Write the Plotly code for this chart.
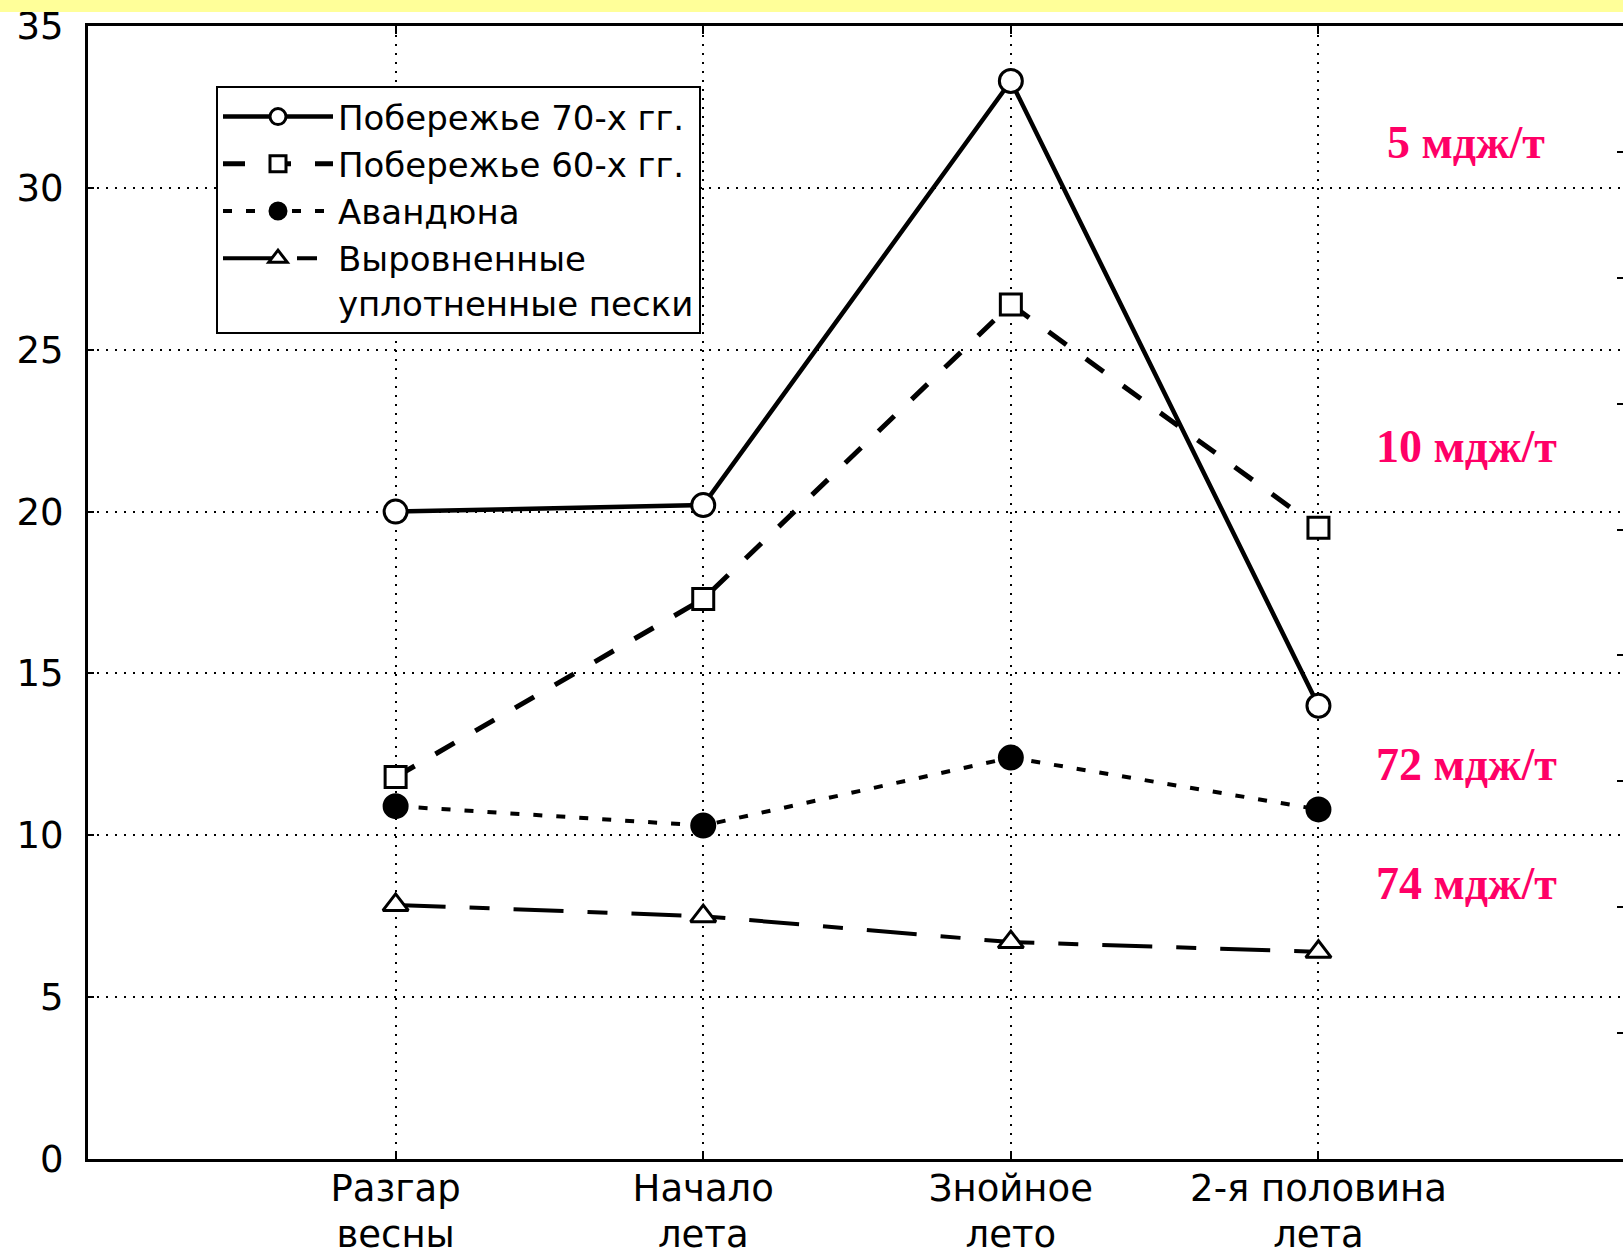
import plotly.graph_objects as go

# Seasons along the x axis (two-line tick labels)
label_line1 = ["Разгар", "Начало", "Знойное", "2-я половина"]
label_line2 = ["весны", "лета", "лето", "лета"]
categories = [f"{a} {b}" for a, b in zip(label_line1, label_line2)]

# Series values
coast_70s = [20.0, 20.2, 33.3, 14.0]
coast_60s = [11.8, 17.3, 26.4, 19.5]
foredune = [10.9, 10.3, 12.4, 10.8]
flat_sands = [7.85, 7.5, 6.7, 6.4]

series_names = [
    "Побережье 70-х гг.",
    "Побережье 60-х гг.",
    "Авандюна",
    "Выровненные<br>уплотненные пески",
]

# Energy labels drawn on the right side of the plot
energy_labels = ["5 мдж/т", "10 мдж/т", "72 мдж/т", "74 мдж/т"]
energy_label_y = [31.4, 22.0, 12.2, 8.5]

y_ticks = [0, 5, 10, 15, 20, 25, 30, 35]

W, H = 1623, 1257
ML, MR, MT, MB = 88, 0, 26, 98
plot_h = H - MT - MB

sans = "DejaVu Sans"
ink = "#000000"
pink = "#FF0066"

styles = [
    dict(dash="solid", width=4.5, symbol="circle", fill="white", size=23),
    dict(dash="22px,24px", width=5, symbol="square", fill="white", size=21),
    dict(dash="9px,14px", width=4, symbol="circle", fill=ink, size=23),
    dict(dash="50px,24px,20px,24px", width=4, symbol="triangle-up", fill="white", size=22),
]

fig = go.Figure()
for name, values, st in zip(series_names, [coast_70s, coast_60s, foredune, flat_sands], styles):
    fig.add_trace(go.Scatter(
        x=categories, y=values, name=name, mode="lines+markers",
        line=dict(color=ink, width=st["width"], dash=st["dash"]),
        marker=dict(symbol=st["symbol"], size=st["size"], color=st["fill"],
                    line=dict(color=ink, width=3)),
    ))

# Empty traces carrying the right-hand tick axis and the second row of x labels
fig.add_trace(go.Scatter(x=[], y=[], yaxis="y2", showlegend=False, hoverinfo="skip"))
fig.add_trace(go.Scatter(x=[], y=[], xaxis="x2", showlegend=False, hoverinfo="skip"))

for label, yv in zip(energy_labels, energy_label_y):
    fig.add_annotation(
        x=3.48, y=yv, xref="x", yref="y", text=f"<b>{label}</b>", showarrow=False,
        font=dict(family="Liberation Serif", size=46, color=pink),
        xanchor="center", yanchor="middle",
    )

grid_dash = "2px,7px"
x_range = [-1, 3.99]
x_font = dict(family=sans, size=37, color=ink)

fig.update_layout(
    width=W, height=H,
    margin=dict(l=ML, r=MR, t=MT, b=MB, autoexpand=False),
    paper_bgcolor="white", plot_bgcolor="white",
    font=dict(family=sans, color=ink),
    showlegend=True,
    legend=dict(
        x=(216 - ML) / (W - ML - MR), y=(H - MB - 86) / plot_h,
        xanchor="left", yanchor="top",
        bgcolor="white", bordercolor=ink, borderwidth=2,
        font=dict(family=sans, size=34, color=ink),
        itemwidth=110, valign="top", tracegroupgap=0,
    ),
    xaxis=dict(
        type="category", range=x_range, automargin=False,
        tickvals=categories, ticktext=label_line1,
        showline=True, linecolor=ink, linewidth=3, mirror="ticks",
        ticks="inside", ticklen=8, tickwidth=2, tickcolor=ink,
        showgrid=True, gridcolor=ink, gridwidth=2, griddash=grid_dash,
        tickfont=x_font, ticklabelstandoff=-5,
        zeroline=False,
    ),
    xaxis2=dict(
        overlaying="x", anchor="y", side="bottom", range=x_range, automargin=False,
        tickvals=list(range(len(label_line2))), ticktext=label_line2,
        showline=False, showgrid=False, zeroline=False, ticks="",
        tickfont=x_font, ticklabelstandoff=50,
    ),
    yaxis=dict(
        range=[0, 35], tickvals=y_ticks, automargin=False,
        showline=True, linecolor=ink, linewidth=3, mirror=False,
        ticks="inside", ticklen=6, tickwidth=2, tickcolor=ink,
        showgrid=True, gridcolor=ink, gridwidth=2, griddash=grid_dash,
        tickfont=dict(family=sans, size=37, color=ink),
        ticklabelstandoff=14,
        zeroline=False,
    ),
    yaxis2=dict(
        overlaying="y", side="right", anchor="x", range=[0, 9], dtick=1,
        showline=False, showgrid=False, zeroline=False, showticklabels=False,
        ticks="inside", ticklen=6, tickwidth=2, tickcolor=ink, automargin=False,
    ),
)

# Pale yellow band across the top edge of the page
fig.add_shape(
    type="rect", xref="paper", yref="paper",
    x0=-ML / (W - ML - MR) - 0.01, x1=1.01,
    y0=(H - MB - 12) / plot_h, y1=(H - MB + 5) / plot_h,
    fillcolor="#FFFF99", line=dict(width=0), layer="above",
)

fig.write_html("out.html")
